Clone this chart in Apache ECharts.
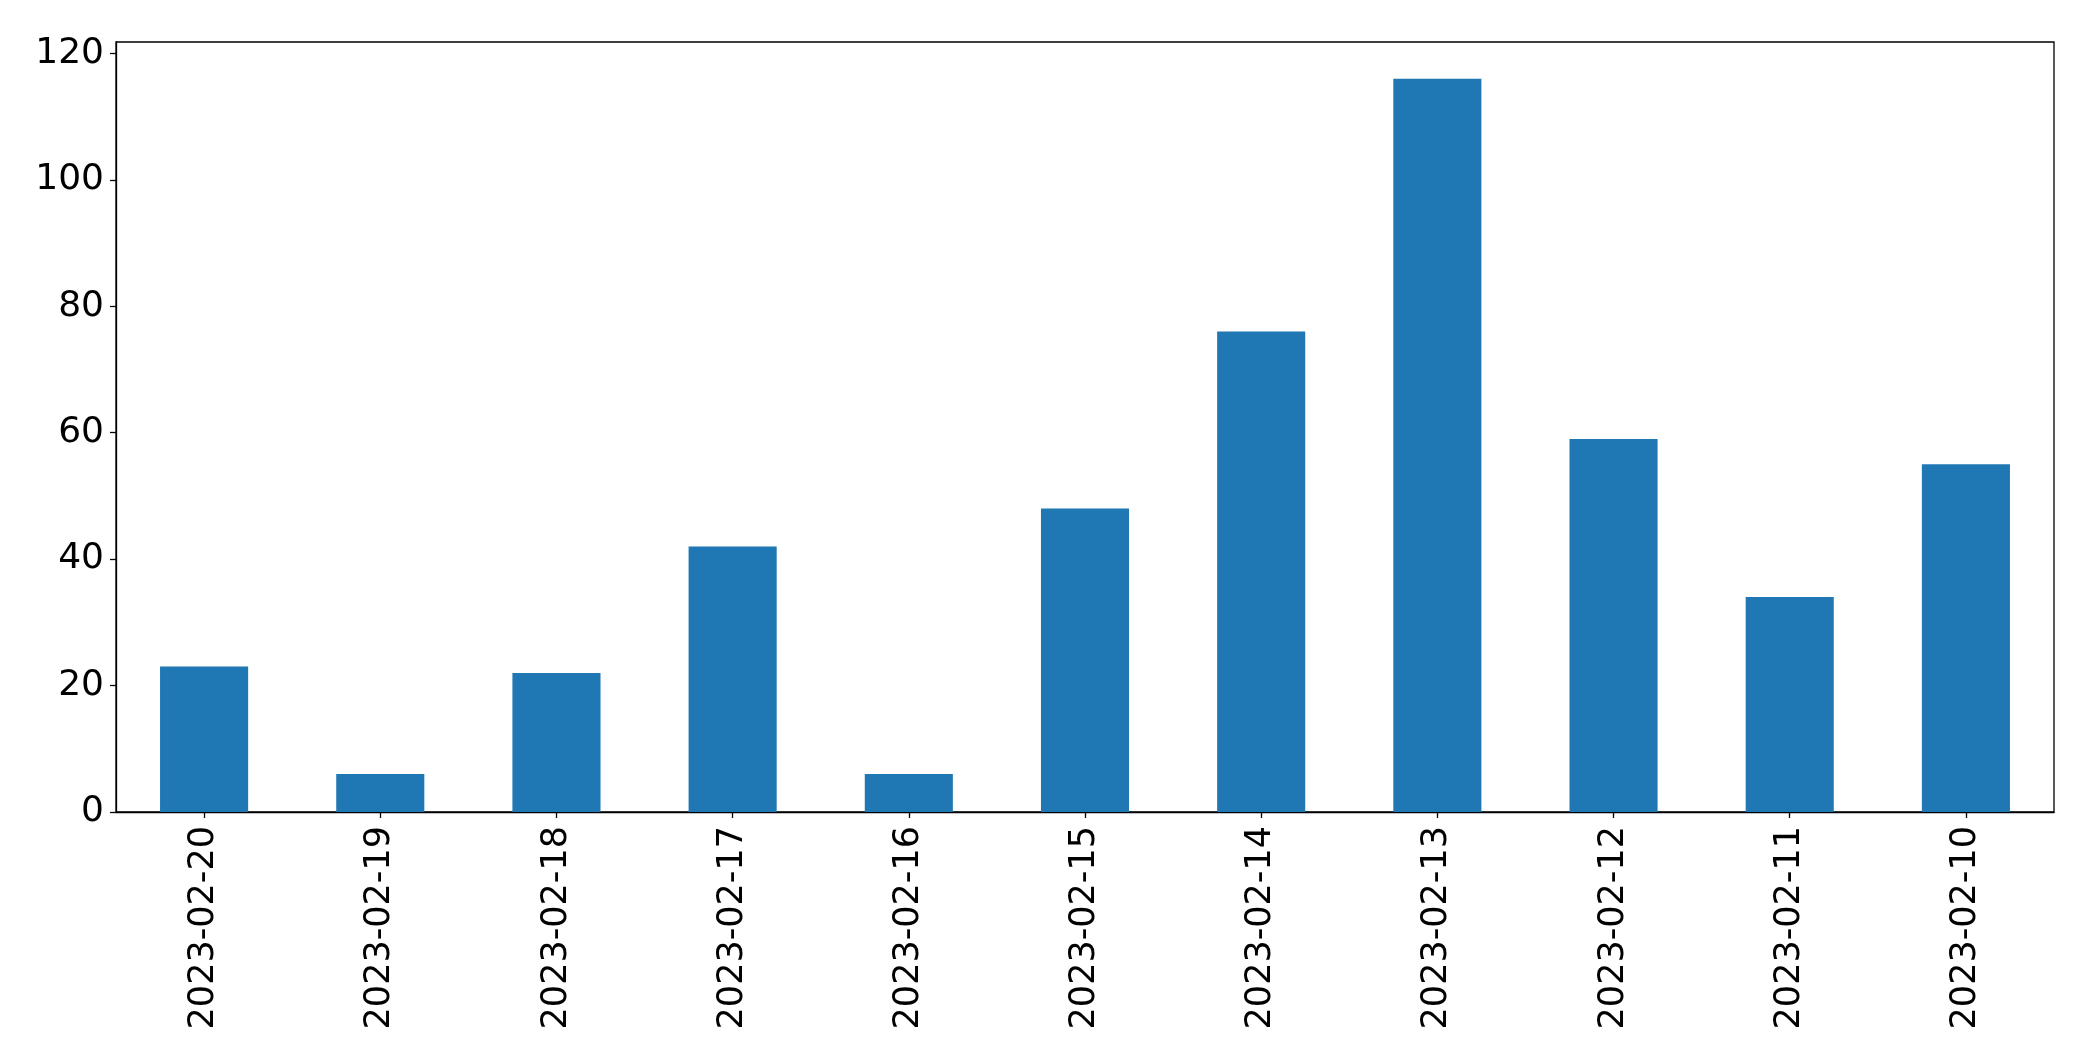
<!DOCTYPE html>
<html>
<head>
<meta charset="utf-8">
<style>html,body{margin:0;padding:0;background:#fff;}#c{width:2093px;height:1064px;}</style>
<script src="https://cdn.jsdelivr.net/npm/echarts@6/dist/echarts.min.js"></script>
</head>
<body>
<div id="c"></div>
<script>
var categories = ['2023-02-20','2023-02-19','2023-02-18','2023-02-17','2023-02-16','2023-02-15','2023-02-14','2023-02-13','2023-02-12','2023-02-11','2023-02-10'];
var values = [23, 6, 22, 42, 6, 48, 76, 116, 59, 34, 55];
var yTicks = [0, 20, 40, 60, 80, 100, 120];

var chart = echarts.init(document.getElementById('c'));
chart.setOption({
  animation: false,
  grid: {left: 116, top: 42, right: 39, bottom: 252, show: true, borderColor: '#000', borderWidth: 1.3, backgroundColor: 'transparent'},
  xAxis: {
    type: 'category',
    data: categories,
    boundaryGap: true,
    axisLine: {show: true, lineStyle: {color: '#000', width: 1.3}},
    axisTick: {show: true, alignWithLabel: true, length: 6, lineStyle: {color: '#000', width: 1.3}},
    axisLabel: {rotate: 90, margin: 14, fontFamily: 'DejaVu Sans', fontSize: 35, color: '#000', interval: 0}
  },
  yAxis: {
    type: 'value',
    min: 0,
    max: 121.8,
    interval: 20,
    splitLine: {show: false},
    axisLine: {show: true, lineStyle: {color: '#000', width: 1.3}},
    axisTick: {show: true, length: 6, customValues: yTicks, lineStyle: {color: '#000', width: 1.3}},
    axisLabel: {margin: 12, fontFamily: 'DejaVu Sans', fontSize: 36, color: '#000', customValues: yTicks, padding: [5, 0, 0, 0]}
  },
  series: [{
    type: 'bar',
    data: values,
    barWidth: '50%',
    itemStyle: {color: '#1f77b4'}
  }]
});
</script>
</body>
</html>
